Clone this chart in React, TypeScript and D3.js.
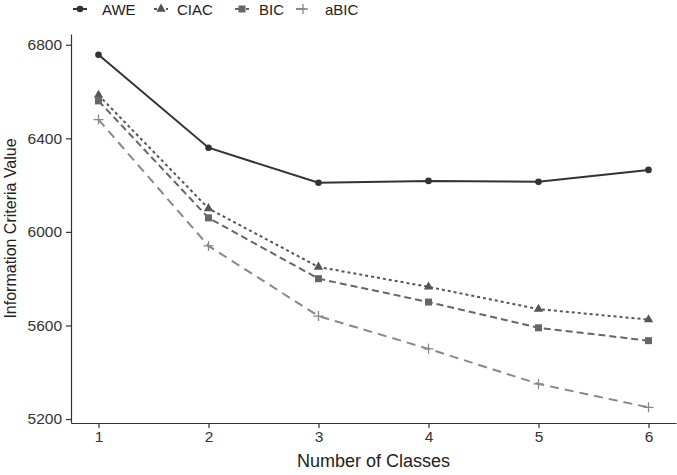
import * as d3 from 'd3';
import React, { useRef, useEffect } from 'react';

const classes = [1, 2, 3, 4, 5, 6];
const seriesNames = ['AWE', 'CIAC', 'BIC', 'aBIC'];
const awe = [6757, 6360, 6210, 6218, 6214, 6265];
const ciac = [6585, 6100, 5850, 5765, 5670, 5625];
const bic = [6560, 6060, 5800, 5700, 5590, 5535];
const abic = [6480, 5940, 5640, 5500, 5350, 5250];
const yTicks = [5200, 5600, 6000, 6400, 6800];

const styles = {
  AWE: { color: '#333333', dash: null, shape: 'circle' },
  CIAC: { color: '#555555', dash: '3,3', shape: 'triangle' },
  BIC: { color: '#666666', dash: '7,4', shape: 'square' },
  aBIC: { color: '#888888', dash: '9,6', shape: 'plus' },
};

const FONT = 'Liberation Sans, Arial, sans-serif';

function drawSymbol(g, shape, color, x, y) {
  if (shape === 'circle') {
    g.append('circle').attr('cx', x).attr('cy', y).attr('r', 3.3).attr('fill', color);
  } else if (shape === 'triangle') {
    g.append('path').attr('d', d3.symbol(d3.symbolTriangle, 38)()).attr('transform', `translate(${x},${y})`).attr('fill', color);
  } else if (shape === 'square') {
    g.append('rect').attr('x', x - 3.5).attr('y', y - 3.5).attr('width', 7).attr('height', 7).attr('fill', color);
  } else {
    g.append('path').attr('d', `M${x - 5},${y}H${x + 5}M${x},${y - 5}V${y + 5}`).attr('stroke', color).attr('stroke-width', 1.3);
  }
}

function App() {
  const ref = useRef();

  useEffect(() => {
    const width = 677, height = 475;
    const svg = d3.select(ref.current);
    svg.selectAll('*').remove();
    svg.attr('width', width).attr('height', height);

    const margin = { top: 34, right: 1, bottom: 52, left: 71 };
    const x = d3.scaleLinear().domain([0.75, 6.25]).range([margin.left, width - margin.right]);
    const y = d3.scaleLinear().domain([5183, 6846]).range([height - margin.bottom, margin.top]);

    const data = { AWE: awe, CIAC: ciac, BIC: bic, aBIC: abic };

    // axes
    const xAxis = svg.append('g').attr('transform', `translate(0,${height - margin.bottom})`)
      .call(d3.axisBottom(x).tickValues(classes).tickFormat(d3.format('d')).tickSize(5).tickPadding(3).tickSizeOuter(0));
    const yAxis = svg.append('g').attr('transform', `translate(${margin.left},0)`)
      .call(d3.axisLeft(y).tickValues(yTicks).tickFormat(d3.format('d')).tickSize(5).tickPadding(4).tickSizeOuter(0));
    [xAxis, yAxis].forEach(a => {
      a.select('.domain').attr('stroke', '#333').attr('stroke-width', 1.2);
      a.selectAll('.tick line').attr('stroke', '#333').attr('stroke-width', 1.2);
      a.selectAll('.tick text').attr('fill', '#333').attr('font-size', 15.5).attr('font-family', FONT);
    });

    svg.append('text').attr('x', (margin.left + width - margin.right) / 2).attr('y', 467)
      .attr('text-anchor', 'middle').attr('font-size', 18).attr('fill', '#222')
      .attr('font-family', FONT).text('Number of Classes');
    svg.append('text').attr('transform', `translate(16,${(margin.top + height - margin.bottom) / 2}) rotate(-90)`)
      .attr('text-anchor', 'middle').attr('font-size', 16).attr('fill', '#222')
      .attr('font-family', FONT).text('Information Criteria Value');

    const line = d3.line().x((d, i) => x(classes[i])).y(d => y(d));

    seriesNames.forEach(name => {
      const st = styles[name];
      const vals = data[name];
      svg.append('path').datum(vals).attr('d', line).attr('fill', 'none')
        .attr('stroke', st.color).attr('stroke-width', 2)
        .attr('stroke-dasharray', st.dash);
      const g = svg.append('g');
      vals.forEach((v, i) => drawSymbol(g, st.shape, st.color, x(classes[i]), y(v)));
    });

    // legend
    const legend = svg.append('g').attr('font-family', FONT).attr('font-size', 15);
    const symX = [80, 161, 242, 303];
    const textX = [102, 177, 259, 325];
    seriesNames.forEach((name, i) => {
      const st = styles[name];
      const ly = 9;
      legend.append('line').attr('x1', symX[i] - 7).attr('x2', symX[i] + 7).attr('y1', ly).attr('y2', ly)
        .attr('stroke', st.color).attr('stroke-width', 2).attr('stroke-dasharray', st.dash);
      drawSymbol(legend, st.shape, st.color, symX[i], ly);
      legend.append('text').attr('x', textX[i]).attr('y', 14.5).attr('fill', '#222').text(name);
    });
  }, []);

  return (
    <svg ref={ref} style={{ position: 'absolute', left: 0, top: 0 }}></svg>
  );
}

export default App;
